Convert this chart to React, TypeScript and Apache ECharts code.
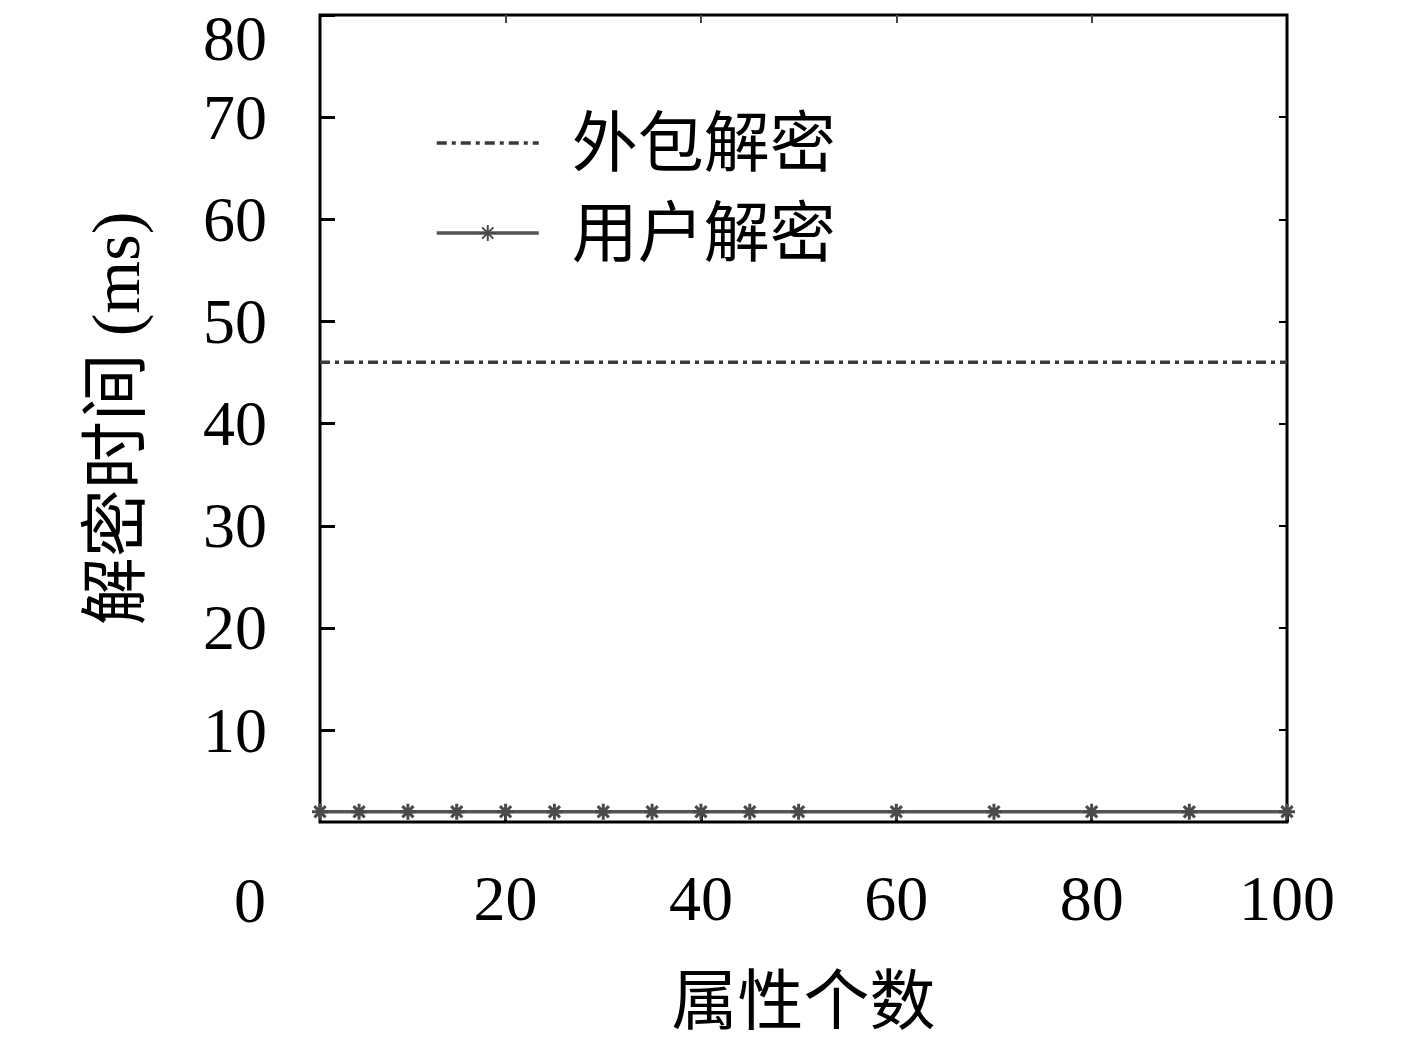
import React, { useEffect, useRef } from "react";
import * as echarts from "echarts";

const attrCounts = [1, 5, 10, 15, 20, 25, 30, 35, 40, 45, 50, 60, 70, 80, 90, 100];
const outsourcedTimes = [46, 46, 46, 46, 46, 46, 46, 46, 46, 46, 46, 46, 46, 46, 46, 46];
const userTimes = [2, 2, 2, 2, 2, 2, 2, 2, 2, 2, 2, 2, 2, 2, 2, 2];
const yTickValues = [10, 20, 30, 40, 50, 60, 70, 80];
const yLabelValues = [10, 20, 30, 40, 50, 60, 70];
const yTopLabel = "80";
const xTickValues = [20, 40, 60, 80, 100];
const xStrayLabel = "0";
const seriesNames = ["外包解密", "用户解密"];

const SERIF = "'Liberation Serif', 'Times New Roman', serif";
const CJK = "'Liberation Serif', 'Noto Sans CJK SC', serif";
const STAR =
  "path://M5,0 L5,10 M0,5 L10,5 M1.5,1.5 L8.5,8.5 M1.5,8.5 L8.5,1.5";
const DASH = [10, 5, 4, 5];

export default function App() {
  const ref = useRef<HTMLDivElement>(null);

  useEffect(() => {
    if (!ref.current) return;
    const chart = echarts.init(ref.current, undefined, { renderer: "svg" });
    const outData = attrCounts.map((x, i) => [x, outsourcedTimes[i]]);
    const userData = attrCounts.map((x, i) => [x, userTimes[i]]);

    chart.setOption({
      animation: false,
      backgroundColor: "#ffffff",
      grid: {
        left: 320,
        top: 15,
        width: 967,
        height: 807,
        show: true,
        borderColor: "#000",
        borderWidth: 3,
        backgroundColor: "transparent",
        containLabel: false,
        outerBoundsMode: "none",
      },
      legend: {
        left: 435,
        top: 110,
        padding: 0,
        orient: "vertical",
        itemWidth: 102,
        itemHeight: 20,
        itemGap: 24,
        data: [
          {
            name: seriesNames[0],
            lineStyle: { width: 3.5, color: "#3a3a3a", type: DASH },
          },
          {
            name: seriesNames[1],
            lineStyle: { width: 3.5, color: "#555" },
          },
        ],
        textStyle: {
          fontFamily: CJK,
          fontSize: 66,
          color: "#000",
          padding: [0, 0, 0, 28],
        },
      },
      xAxis: [
        {
          type: "value",
          position: "bottom",
          min: 1,
          max: 100,
          name: "属性个数",
          nameLocation: "middle",
          nameGap: 146,
          nameTextStyle: { fontFamily: CJK, fontSize: 66, color: "#000" },
          axisLine: { show: false },
          splitLine: { show: false },
          axisTick: {
            show: true,
            inside: true,
            length: 10,
            customValues: xTickValues,
            lineStyle: { color: "#000", width: 3 },
          },
          axisLabel: {
            customValues: xTickValues,
            fontFamily: SERIF,
            fontSize: 64,
            color: "#000",
            margin: 44,
          },
        },
        {
          type: "value",
          position: "top",
          min: 1,
          max: 100,
          axisLine: { show: false },
          splitLine: { show: false },
          axisTick: {
            show: true,
            inside: true,
            length: 8,
            customValues: [20, 40, 60, 80],
            lineStyle: { color: "#444", width: 2 },
          },
          axisLabel: { show: false },
        },
      ],
      yAxis: [
        {
          type: "value",
          position: "left",
          min: 1,
          max: 80,
          name: "解密时间 (ms)",
          nameLocation: "middle",
          nameGap: 170,
          nameRotate: 90,
          nameTextStyle: { fontFamily: CJK, fontSize: 68, color: "#000" },
          axisLine: { show: false },
          splitLine: { show: false },
          axisTick: {
            show: true,
            inside: true,
            length: 15,
            customValues: yTickValues,
            lineStyle: { color: "#000", width: 3 },
          },
          axisLabel: {
            customValues: yLabelValues,
            fontFamily: SERIF,
            fontSize: 64,
            color: "#000",
            margin: 53,
          },
        },
        {
          type: "value",
          position: "right",
          min: 1,
          max: 80,
          axisLine: { show: false },
          splitLine: { show: false },
          axisTick: {
            show: true,
            inside: true,
            length: 8,
            customValues: yTickValues,
            lineStyle: { color: "#000", width: 2 },
          },
          axisLabel: { show: false },
        },
      ],
      graphic: [
        {
          type: "text",
          x: 267,
          y: 38,
          style: {
            text: yTopLabel,
            fontFamily: SERIF,
            fontSize: 64,
            align: "right",
            verticalAlign: "middle",
            fill: "#000",
          },
        },
        {
          type: "text",
          x: 250,
          y: 900,
          style: {
            text: xStrayLabel,
            fontFamily: SERIF,
            fontSize: 64,
            align: "center",
            verticalAlign: "middle",
            fill: "#000",
          },
        },
      ],
      series: [
        {
          name: seriesNames[0],
          type: "line",
          data: outData,
          showSymbol: false,
          symbol: "rect",
          symbolSize: 4,
          color: "#3a3a3a",
          itemStyle: { color: "transparent", borderWidth: 0 },
          lineStyle: { color: "#3a3a3a", width: 3.5, type: DASH },
          z: 3,
        },
        {
          name: seriesNames[1],
          type: "line",
          data: userData,
          symbol: STAR,
          symbolSize: 16,
          symbolKeepAspect: true,
          showSymbol: true,
          color: "#4a4a4a",
          itemStyle: { color: "#4a4a4a", borderColor: "#4a4a4a", borderWidth: 3 },
          lineStyle: { color: "#555", width: 3.5 },
          z: 3,
        },
      ],
    });

    return () => chart.dispose();
  }, []);

  return (
    <div
      ref={ref}
      style={{ position: "absolute", left: 0, top: 0, width: 1417, height: 1039 }}
    />
  );
}
